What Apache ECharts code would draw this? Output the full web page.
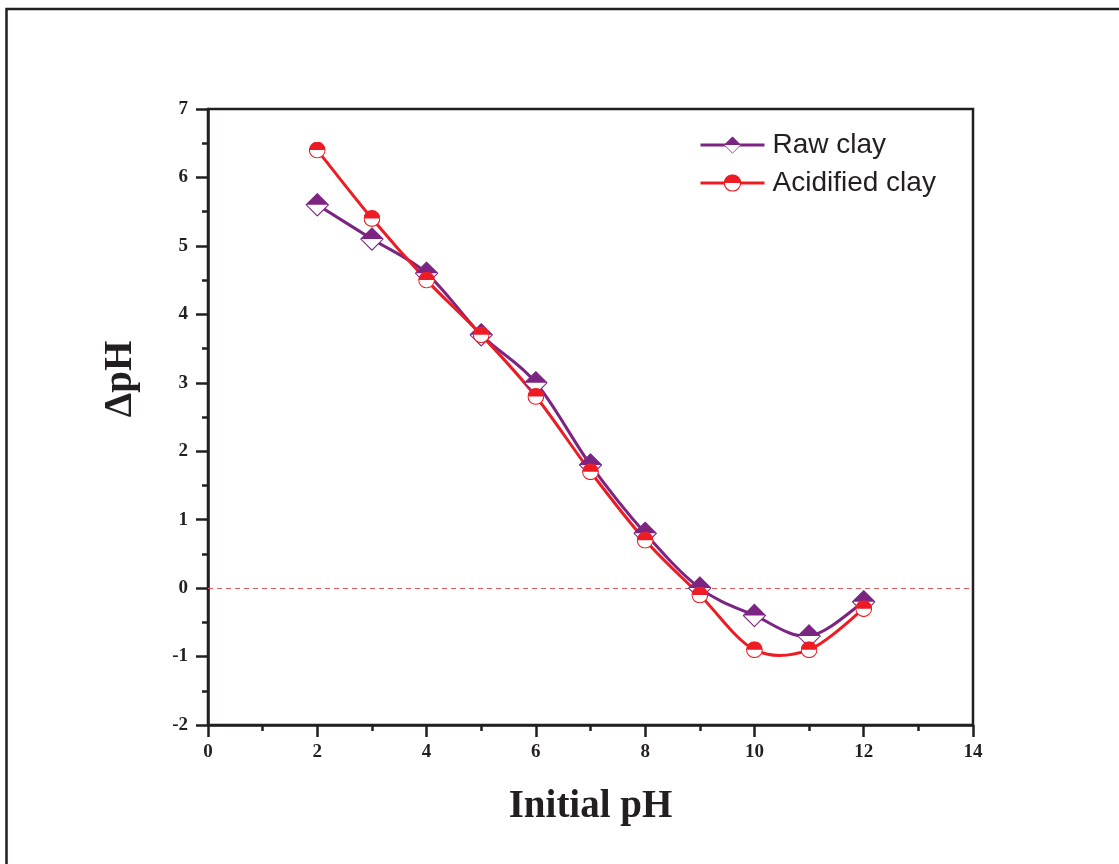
<!DOCTYPE html>
<html>
<head>
<meta charset="utf-8">
<script src="https://cdn.jsdelivr.net/npm/echarts@6/dist/echarts.min.js"></script>
<style>
html,body{margin:0;padding:0;background:#fff;}
#chart{width:1119px;height:864px;}
</style>
</head>
<body>
<div id="chart"></div>
<script>
// ---- data ----
const initialPH = [2, 3, 4, 5, 6, 7, 8, 9, 10, 11, 12];
const rawClay = [5.6, 5.1, 4.6, 3.7, 3.0, 1.8, 0.8, 0.0, -0.4, -0.7, -0.2];
const acidifiedClay = [6.4, 5.4, 4.5, 3.7, 2.8, 1.7, 0.7, -0.1, -0.9, -0.9, -0.3];
const seriesNames = ['Raw clay', 'Acidified clay'];
const xTitle = 'Initial pH';
const yTitle = '\u0394pH';

const PURPLE = '#7b2482';
const RED = '#ed1c24';
const INK = '#231f20';

function svgUri(svg) {
  return 'image://data:image/svg+xml;charset=utf-8,' + encodeURIComponent(svg);
}
const diamondSym = svgUri(
  "<svg xmlns='http://www.w3.org/2000/svg' width='66' height='66' viewBox='0 0 22 22'>" +
  "<polygon points='11,0.8 21.2,11 11,21.2 0.8,11' fill='#ffffff' stroke='" + PURPLE + "' stroke-width='1'/>" +
  "<polygon points='11,0.8 21.2,11 0.8,11' fill='" + PURPLE + "'/></svg>");
const circleSym = svgUri(
  "<svg xmlns='http://www.w3.org/2000/svg' width='48' height='48' viewBox='0 0 16 16'>" +
  "<circle cx='8' cy='8' r='7.4' fill='#ffffff' stroke='" + RED + "' stroke-width='1'/>" +
  "<path d='M0.6,8 A7.4,7.4 0 0 1 15.4,8 Z' fill='" + RED + "'/></svg>");

const pairs = (ys) => initialPH.map((x, i) => [x, ys[i]]);

// Catmull-Rom spline through the data points, mapped with the chart's own axes
function splineRenderer(ys, color) {
  return function (params, api) {
    const pts = initialPH.map((x, i) => api.coord([x, ys[i]]));
    const n = pts.length;
    let d = 'M' + pts[0][0] + ',' + pts[0][1];
    for (let i = 0; i < n - 1; i++) {
      const p0 = pts[Math.max(0, i - 1)], p1 = pts[i], p2 = pts[i + 1], p3 = pts[Math.min(n - 1, i + 2)];
      const c1 = [p1[0] + (p2[0] - p0[0]) / 6, p1[1] + (p2[1] - p0[1]) / 6];
      const c2 = [p2[0] - (p3[0] - p1[0]) / 6, p2[1] - (p3[1] - p1[1]) / 6];
      d += ' C' + c1[0] + ',' + c1[1] + ' ' + c2[0] + ',' + c2[1] + ' ' + p2[0] + ',' + p2[1];
    }
    return {
      type: 'path',
      shape: {pathData: d},
      style: {fill: 'none', stroke: color, lineWidth: 3, lineJoin: 'round'}
    };
  };
}

const chart = echarts.init(document.getElementById('chart'), null, {renderer: 'canvas'});
chart.setOption({
  animation: false,
  backgroundColor: '#ffffff',
  grid: {
    left: 208, right: 146, top: 109, bottom: 139,
    show: true, borderColor: INK, borderWidth: 2.5, backgroundColor: 'transparent'
  },
  legend: {
    orient: 'vertical',
    left: 694, top: 126,
    itemWidth: 64, itemHeight: 22, itemGap: 10,
    lineStyle: {width: 3, opacity: 1},
    textStyle: {fontFamily: 'Liberation Sans, Arial, sans-serif', fontSize: 28, color: INK, lineHeight: 28, padding: [0, 0, 0, 3]},
    data: seriesNames
  },
  xAxis: {
    type: 'value', min: 0, max: 14, interval: 2,
    axisLine: {onZero: false, lineStyle: {color: INK, width: 2.5}},
    axisTick: {show: true, length: 12, lineStyle: {color: INK, width: 2.5}},
    minorTick: {show: true, splitNumber: 2, length: 6, lineStyle: {color: INK, width: 2.5}},
    splitLine: {show: false},
    axisLabel: {margin: 18, color: INK, fontFamily: 'Liberation Serif, Times New Roman, serif', fontWeight: 'bold', fontSize: 19},
    name: xTitle, nameLocation: 'middle', nameGap: 62,
    nameTextStyle: {color: INK, fontFamily: 'Liberation Serif, Times New Roman, serif', fontWeight: 'bold', fontSize: 39}
  },
  yAxis: {
    type: 'value', min: -2, max: 7, interval: 1,
    axisLine: {onZero: false, lineStyle: {color: INK, width: 2.5}},
    axisTick: {show: true, length: 12, lineStyle: {color: INK, width: 2.5}},
    minorTick: {show: true, splitNumber: 2, length: 6, lineStyle: {color: INK, width: 2.5}},
    splitLine: {show: false},
    axisLabel: {margin: 20, color: INK, fontFamily: 'Liberation Serif, Times New Roman, serif', fontWeight: 'bold', fontSize: 19}
  },
  graphic: [
    {type: 'rect', silent: true, shape: {x: 6.5, y: 9, width: 1300, height: 1000},
     style: {fill: 'none', stroke: INK, lineWidth: 2.5}, z: -10},
    {type: 'text', x: 121, y: 379, rotation: Math.PI / 2, silent: true,
     style: {text: yTitle, fill: INK, font: 'bold 39px "Liberation Serif", "Times New Roman", serif',
             textAlign: 'center', textVerticalAlign: 'middle'}}
  ],
  series: [
    {
      name: seriesNames[0], type: 'line', data: pairs(rawClay),
      symbol: diamondSym, symbolSize: 24, showAllSymbol: true,
      lineStyle: {color: PURPLE, width: 3, opacity: 0}, itemStyle: {color: PURPLE},
      z: 5,
      markLine: {
        silent: true, symbol: 'none', label: {show: false},
        lineStyle: {color: '#e25a5c', type: [5, 4], width: 1, opacity: 1},
        data: [{yAxis: 0}]
      }
    },
    {
      name: seriesNames[1], type: 'line', data: pairs(acidifiedClay),
      symbol: circleSym, symbolSize: 17, showAllSymbol: true,
      lineStyle: {color: RED, width: 3, opacity: 0}, itemStyle: {color: RED},
      z: 6
    },
    {
      name: seriesNames[0] + ' curve', type: 'custom', data: [0], silent: true, z: 2,
      renderItem: splineRenderer(rawClay, PURPLE)
    },
    {
      name: seriesNames[1] + ' curve', type: 'custom', data: [0], silent: true, z: 3,
      renderItem: splineRenderer(acidifiedClay, RED)
    }
  ]
});
</script>
</body>
</html>
